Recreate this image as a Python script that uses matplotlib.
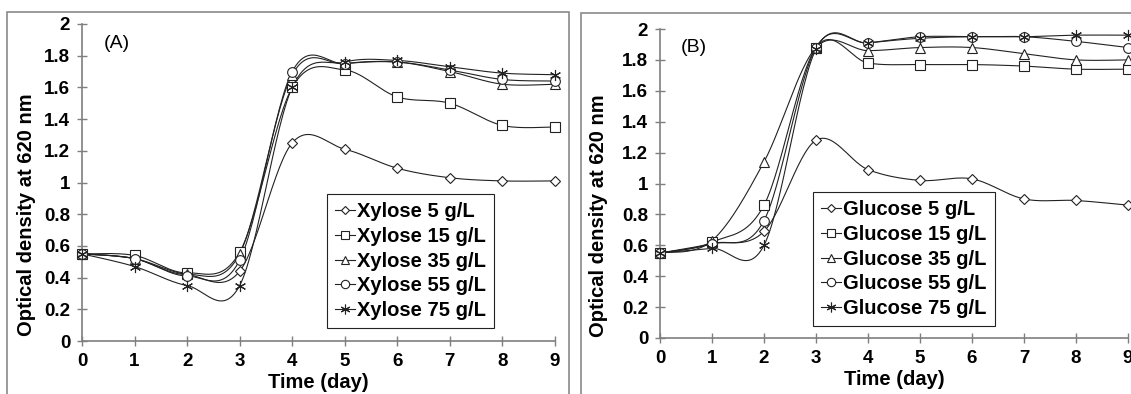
import numpy as np
import matplotlib
matplotlib.use("Agg")
import matplotlib.pyplot as plt
from matplotlib.patches import Rectangle

plt.rcParams['font.family'] = ['Liberation Sans', 'DejaVu Sans']

days = [0, 1, 2, 3, 4, 5, 6, 7, 8, 9]

# Panel A - xylose
xylose_labels = ["Xylose 5 g/L", "Xylose 15 g/L", "Xylose 35 g/L", "Xylose 55 g/L", "Xylose 75 g/L"]
xylose_5 = [0.55, 0.52, 0.42, 0.44, 1.25, 1.21, 1.09, 1.03, 1.01, 1.01]
xylose_15 = [0.55, 0.54, 0.43, 0.56, 1.60, 1.71, 1.54, 1.50, 1.36, 1.35]
xylose_35 = [0.55, 0.52, 0.42, 0.55, 1.68, 1.75, 1.76, 1.70, 1.62, 1.62]
xylose_55 = [0.55, 0.52, 0.41, 0.51, 1.70, 1.75, 1.76, 1.71, 1.65, 1.64]
xylose_75 = [0.55, 0.47, 0.35, 0.35, 1.60, 1.76, 1.77, 1.73, 1.69, 1.68]

# Panel B - glucose
glucose_labels = ["Glucose 5 g/L", "Glucose 15 g/L", "Glucose 35 g/L", "Glucose 55 g/L", "Glucose 75 g/L"]
glucose_5 = [0.55, 0.61, 0.69, 1.28, 1.09, 1.02, 1.03, 0.90, 0.89, 0.86]
glucose_15 = [0.55, 0.62, 0.86, 1.88, 1.78, 1.77, 1.77, 1.76, 1.74, 1.74]
glucose_35 = [0.55, 0.63, 1.14, 1.88, 1.86, 1.88, 1.88, 1.84, 1.80, 1.80]
glucose_55 = [0.55, 0.61, 0.76, 1.88, 1.91, 1.95, 1.95, 1.95, 1.92, 1.88]
glucose_75 = [0.55, 0.58, 0.60, 1.87, 1.91, 1.94, 1.95, 1.95, 1.96, 1.96]

markers = ['D', 's', '^', 'o', (6, 2, 0)]
msizes = [5, 6.5, 6.5, 7, 8]


# Excel-like smoothed line through the points (Catmull-Rom bezier)
def smooth(x, y, n=30):
    x = np.asarray(x, float)
    y = np.asarray(y, float)
    px = np.concatenate([[x[0]], x, [x[-1]]])
    py = np.concatenate([[y[0]], y, [y[-1]]])
    t = np.linspace(0, 1, n)
    xs, ys = [], []
    for i in range(1, len(px) - 2):
        p0 = np.array([px[i], py[i]])
        p3 = np.array([px[i + 1], py[i + 1]])
        p1 = p0 + (p3 - np.array([px[i - 1], py[i - 1]])) / 6
        p2 = p3 - (np.array([px[i + 2], py[i + 2]]) - p0) / 6
        b = ((1 - t) ** 3)[:, None] * p0 + (3 * (1 - t) ** 2 * t)[:, None] * p1 \
            + (3 * (1 - t) * t ** 2)[:, None] * p2 + (t ** 3)[:, None] * p3
        xs.append(b[:, 0])
        ys.append(b[:, 1])
    return np.concatenate(xs), np.concatenate(ys)


W, H = 1131, 394
fig = plt.figure(figsize=(W / 100, H / 100), dpi=100)

# panel frames
fig.patches.append(Rectangle((7 / W, -0.05), (569 - 7) / W, 1.05 - 12 / H, transform=fig.transFigure,
                             fill=False, edgecolor='#8a8a8a', lw=1.2))
fig.patches.append(Rectangle((581 / W, -0.05), (1140 - 581) / W, 1.05 - 13 / H, transform=fig.transFigure,
                             fill=False, edgecolor='#8a8a8a', lw=1.2))

ax1 = fig.add_axes([82 / W, 1 - 341 / H, (555 - 82) / W, (341 - 24) / H])
ax2 = fig.add_axes([660 / W, 1 - 338 / H, (1128 - 660) / W, (338 - 29) / H])

panels = [
    (ax1, [xylose_5, xylose_15, xylose_35, xylose_55, xylose_75], xylose_labels, "(A)",
     (0.518, 0.041), (-0.097, 0.40)),
    (ax2, [glucose_5, glucose_15, glucose_35, glucose_55, glucose_75], glucose_labels, "(B)",
     (0.327, 0.039), (-0.111, 0.395)),
]

for ax, series, labels, tag, legpos, ylpos in panels:
    handles = []
    for vals, lab, m, ms in zip(series, labels, markers, msizes):
        sx, sy = smooth(days, vals)
        ax.plot(sx, sy, color='#222222', lw=0.8, clip_on=False)
        ax.plot(days, vals, linestyle='none', marker=m, ms=ms, mfc='white', mec='#222222',
                mew=0.8, clip_on=False, zorder=3)
        h, = ax.plot([], [], color='#222222', lw=0.8, marker=m, ms=ms - 1, mfc='white', mec='#222222',
                     mew=0.8, label=lab)
        handles.append(h)

    ax.set_xlim(0, 9)
    ax.set_ylim(0, 2)
    ax.set_xticks(range(10))
    ax.set_yticks(np.arange(0, 2.01, 0.2))
    ax.set_yticklabels(['0', '0.2', '0.4', '0.6', '0.8', '1', '1.2', '1.4', '1.6', '1.8', '2'])
    for s in ['top', 'right']:
        ax.spines[s].set_visible(False)
    for s in ['left', 'bottom']:
        ax.spines[s].set_color('#7f7f7f')
        ax.spines[s].set_linewidth(1.2)
    ax.tick_params(direction='inout', length=7, width=1, color='#7f7f7f', labelsize=13.5, pad=5)
    for lbl in ax.get_xticklabels() + ax.get_yticklabels():
        lbl.set_fontweight('bold')
    ax.set_xlabel("Time (day)", fontsize=14.5, fontweight='bold', labelpad=2)
    ax.set_ylabel("Optical density at 620 nm", fontsize=14.5, fontweight='bold')
    ax.yaxis.set_label_coords(*ylpos)
    ax.text(0.045, 0.94, tag, transform=ax.transAxes, fontsize=14, va='center', ha='left')

    leg = ax.legend(handles=handles, loc='lower left', bbox_to_anchor=legpos, fancybox=False,
                    framealpha=1, edgecolor='#222222', prop={'weight': 'bold', 'size': 14.5},
                    handlelength=1.0, handletextpad=0.1, labelspacing=0.28, borderpad=0.4,
                    borderaxespad=0)
    leg.get_frame().set_linewidth(0.8)

fig.savefig("out.png", dpi=100)
